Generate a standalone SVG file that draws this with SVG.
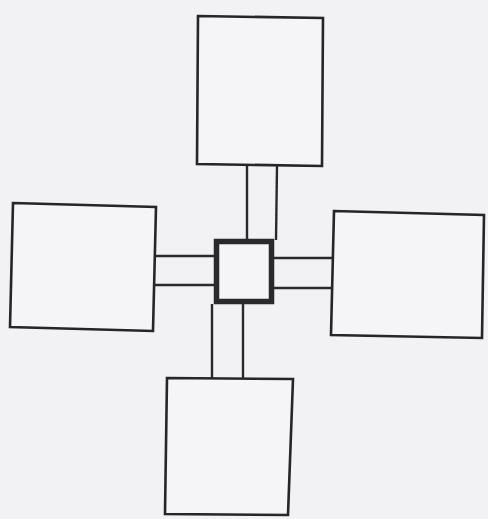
<svg xmlns="http://www.w3.org/2000/svg" width="488" height="519" viewBox="0 0 488 519">
<style>
.room{fill:#f5f4f6;stroke:#262626;stroke-width:2.6;stroke-linejoin:miter}
.hub{fill:#f5f4f6;stroke:#2a2a2a;stroke-width:5.5}
.link{stroke:#2a2a2a;stroke-width:2.4;fill:none}
</style>
<rect width="488" height="519" fill="#f2f1f3"/>
<g id="connectors">
<line class="link" x1="247" y1="165" x2="247" y2="240"/>
<line class="link" x1="277" y1="166" x2="276" y2="240"/>
<line class="link" x1="155" y1="256" x2="215" y2="256"/>
<line class="link" x1="155" y1="285" x2="215" y2="285"/>
<line class="link" x1="273" y1="258" x2="333" y2="258"/>
<line class="link" x1="273" y1="288" x2="332" y2="288"/>
<line class="link" x1="212" y1="304" x2="212" y2="378"/>
<line class="link" x1="243" y1="304" x2="243" y2="378"/>
</g>
<g id="node-top"><polygon class="room" points="198,16 323,18 322,166 197,164"/></g>
<g id="node-left"><polygon class="room" points="13,203 156,207 153,331 10,327"/></g>
<g id="node-right"><polygon class="room" points="334,211 484,215 482,338 331,335"/></g>
<g id="node-bottom"><polygon class="room" points="167,378 293,379 288,515 165,514"/></g>
<g id="node-center"><rect class="hub" x="216.5" y="241.5" width="55" height="60"/></g>
</svg>
